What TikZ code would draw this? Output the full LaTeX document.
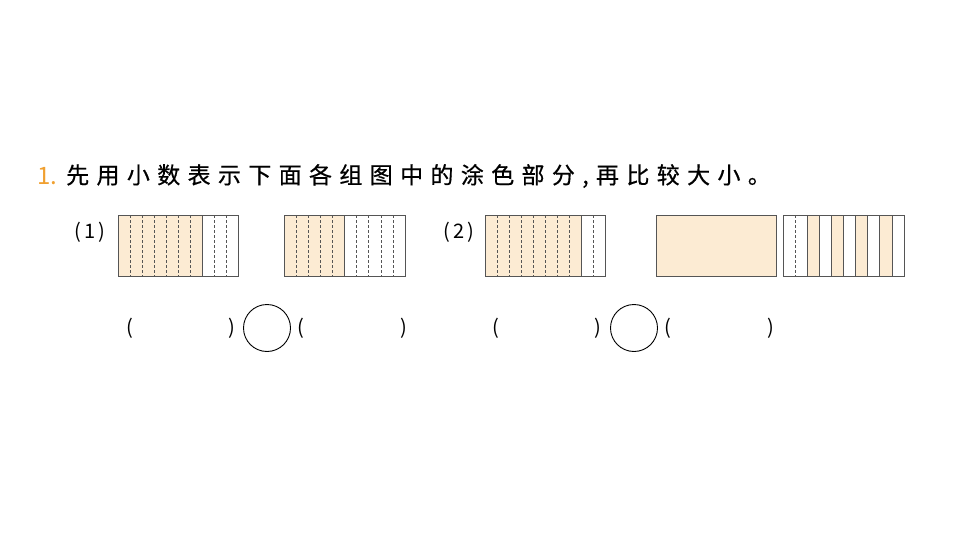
\documentclass[tikz,border=0pt]{standalone}
\usepackage{fontspec}
\setmainfont{Noto Sans CJK SC}
\newfontfamily\cjkspaced[LetterSpace=32,FakeBold=0.6]{Noto Sans CJK SC}
\definecolor{shadecol}{HTML}{FCEBD3}
\definecolor{numor}{HTML}{F0A030}
\definecolor{edge}{HTML}{555555}
\begin{document}
\begin{tikzpicture}[x=1pt,y=-1pt,
  box/.style={draw=edge,line width=1pt},
  dl/.style={draw=edge,dashed,dash pattern=on 3pt off 2pt,line width=0.6pt},
  sl/.style={draw=edge,line width=0.8pt},
  lbl/.style={font=\fontsize{20}{22}\selectfont,inner sep=0pt}]
\useasboundingbox (0,0) rectangle (960,540);
\node[anchor=west,inner sep=0pt,text=numor,font=\fontsize{24}{26}\selectfont] (num) at (37,176) {1.};
\node[anchor=west,inner sep=0pt,font=\fontsize{23}{26}\selectfont\cjkspaced] (title) at (66,176) {先用小数表示下面各组图中的涂色部分,再比较大小。};
\node[lbl] (l1) at (90,232) {(\,1\,)};
\node[lbl] (l2) at (459,232) {(\,2\,)};
% fig 1
\fill[shadecol] (118,215) rectangle (202,276);
\foreach \i in {1,...,9}{\ifnum\i=7 \draw[sl] (118+12*\i,215)--(118+12*\i,276); \else \draw[dl] (118+12*\i,215)--(118+12*\i,276);\fi}
\draw[box] (118,215) rectangle (238,276);
% fig 2
\fill[shadecol] (284,215) rectangle (344.5,276);
\foreach \i in {1,...,9}{\ifnum\i=5 \draw[sl] (284+12.1*\i,215)--(284+12.1*\i,276); \else \draw[dl] (284+12.1*\i,215)--(284+12.1*\i,276);\fi}
\draw[box] (284,215) rectangle (405,276);
% fig 3
\fill[shadecol] (485,215) rectangle (581,276);
\foreach \i in {1,...,9}{\ifnum\i=8 \draw[sl] (485+12*\i,215)--(485+12*\i,276); \else \draw[dl] (485+12*\i,215)--(485+12*\i,276);\fi}
\draw[box] (485,215) rectangle (605,276);
% fig 4
\fill[shadecol] (656,215) rectangle (776,276);
\draw[box] (656,215) rectangle (776,276);
% fig 5
\foreach \i in {2,4,6,8}{\fill[shadecol] (783+12.1*\i,215) rectangle (783+12.1*\i+12.1,276);}
\draw[dl] (795.1,215)--(795.1,276);
\foreach \i in {2,...,9}{\draw[sl] (783+12.1*\i,215)--(783+12.1*\i,276);}
\draw[box] (783,215) rectangle (904,276);
% answer row
\node[lbl] (a1) at (130,328) {(};
\node[lbl] (b1) at (232,328) {)};
\node[draw=black,line width=0.9pt,circle,minimum size=47pt,inner sep=0pt] (c1) at (267,328) {};
\node[lbl] (a2) at (301,328) {(};
\node[lbl] (b2) at (404,328) {)};
\node[lbl] (a3) at (496,328) {(};
\node[lbl] (b3) at (598,328) {)};
\node[draw=black,line width=0.9pt,circle,minimum size=47pt,inner sep=0pt] (c2) at (634,328) {};
\node[lbl] (a4) at (668,328) {(};
\node[lbl] (b4) at (771,328) {)};
\end{tikzpicture}
\end{document}
